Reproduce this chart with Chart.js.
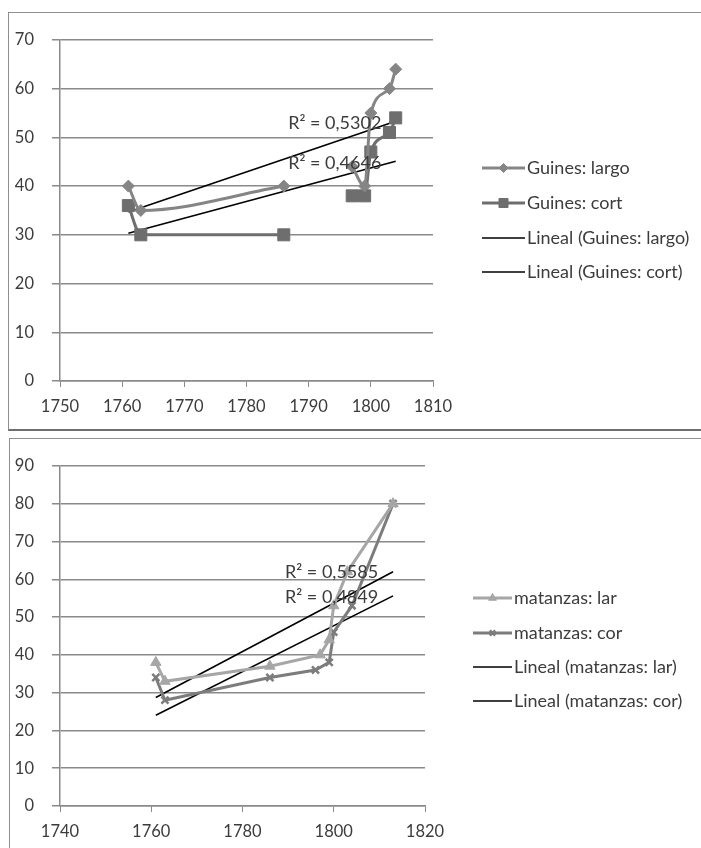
<!DOCTYPE html>
<html>
<head>
<meta charset="utf-8">
<script src="https://cdn.jsdelivr.net/npm/chart.js@4/dist/chart.umd.min.js"></script>
<style>
  html, body { margin: 0; padding: 0; background: #ffffff; }
  body { width: 701px; height: 848px; position: relative; overflow: hidden; }
  .box { position: absolute; border: 1.5px solid #8f8f8f; box-sizing: border-box; }
  #box1 { left: 8px; top: 12px; width: 700px; height: 419px; border-bottom: 2px solid #6f6f6f; }
  #box2 { left: 9px; top: 438px; width: 700px; height: 420px; }
  canvas { position: absolute; left: 0; }
  #c1 { top: 12px; }
  #c2 { top: 438px; }
</style>
</head>
<body>
<div class="box" id="box1"></div>
<div class="box" id="box2"></div>
<canvas id="c1" width="700" height="418"></canvas>
<canvas id="c2" width="700" height="410"></canvas>
<script>
// ---- Güines: sample years and values (null = no record, line breaks there) ----
const guinesLargoYears = [1761, 1763, 1786, null, 1797, 1799, 1800, 1803, 1804];
const guinesLargo      = [40, 35, 40, null, 44, 40, 55, 60, 64];
const guinesCortYears  = [1761, 1763, 1786, null, 1797, 1799, 1800, 1803, 1804];
const guinesCort       = [36, 30, 30, null, 38, 38, 47, 51, 54];
// linear trend endpoints [year, value]
const trendGuinesLargo = [[1761, 34.7], [1804, 53.3]];
const trendGuinesCort  = [[1761, 30.3], [1804, 45.1]];
const r2Guines = ['R² = 0,5302', 'R² = 0,4646'];
const guinesLabels = ['Guines: largo', 'Guines: cort', 'Lineal (Guines: largo)', 'Lineal (Guines: cort)'];
const guinesXTicks = [1750, 1760, 1770, 1780, 1790, 1800, 1810];
const guinesYTicks = [0, 10, 20, 30, 40, 50, 60, 70];

// ---- Matanzas: sample years and values ----
const matLarYears = [1761, 1763, 1786, 1797, 1799, 1800, 1803, 1813];
const matLar      = [38, 33, 37, 40, 44, 53, 62, 80];
const matCorYears = [1761, 1763, 1786, 1796, 1799, 1800, 1804, 1813];
const matCor      = [34, 28, 34, 36, 38, 46, 53, 80];
const trendMatLar = [[1761, 28.7], [1813, 62.0]];
const trendMatCor = [[1761, 24.0], [1813, 55.6]];
const r2Mat = ['R² = 0,5585', 'R² = 0,4849'];
const matLabels = ['matanzas: lar', 'matanzas: cor', 'Lineal (matanzas: lar)', 'Lineal (matanzas: cor)'];
const matXTicks = [1740, 1760, 1780, 1800, 1820];
const matYTicks = [0, 10, 20, 30, 40, 50, 60, 70, 80, 90];

const FONT = 'Lato, "Open Sans", sans-serif';
const TEXT = '#3c3c3c';
const GRID = '#8a8a8a';
const TICK_SIZE = 16.5;
const LEGEND_SIZE = 18;

function pts(xs, ys) { return xs.map((x, i) => ({ x: x, y: ys[i] })); }
function trendPts(t) { return t.map(p => ({ x: p[0], y: p[1] })); }

function seriesDs(label, data, color, style, radius, smooth) {
  return {
    label: label, data: data, showLine: true, spanGaps: false,
    borderColor: color, backgroundColor: color, borderWidth: 3,
    pointStyle: style, pointRadius: radius, pointBorderColor: color,
    pointBackgroundColor: color, pointBorderWidth: style === 'crossRot' ? 2.5 : 1,
    tension: smooth ? 0.4 : 0,
    cubicInterpolationMode: smooth ? 'monotone' : 'default'
  };
}
function trendDs(label, data) {
  return {
    label: label, data: data, showLine: true,
    borderColor: '#000000', backgroundColor: '#000000', borderWidth: 1.6,
    pointRadius: 0, tension: 0
  };
}

// legend drawn at the right of the plot, one row per dataset
const sideLegend = {
  id: 'sideLegend',
  afterDraw(chart, args, opts) {
    const ctx = chart.ctx;
    ctx.save();
    ctx.textBaseline = 'middle';
    chart.data.datasets.forEach((ds, i) => {
      const y = opts.rows[i];
      const x0 = opts.x0, x1 = opts.x1;
      ctx.strokeStyle = ds.borderColor;
      ctx.fillStyle = ds.borderColor;
      ctx.lineWidth = ds.pointRadius ? 3 : 1.6;
      ctx.beginPath(); ctx.moveTo(x0, y); ctx.lineTo(x1, y); ctx.stroke();
      if (ds.pointRadius) {
        ctx.lineWidth = ds.pointBorderWidth;
        Chart.helpers.drawPoint(ctx, {
          pointStyle: ds.pointStyle, radius: ds.pointRadius * 0.75,
          borderWidth: ds.pointBorderWidth
        }, (x0 + x1) / 2, y);
      }
      ctx.font = LEGEND_SIZE + 'px ' + FONT;
      ctx.fillStyle = TEXT;
      ctx.textAlign = 'left';
      ctx.fillText(ds.label, x1 + 2, y);
    });
    ctx.restore();
  }
};

// R² annotations anchored in data coordinates
const r2Labels = {
  id: 'r2Labels',
  afterDatasetsDraw(chart, args, opts) {
    const ctx = chart.ctx, xs = chart.scales.x, ys = chart.scales.y;
    ctx.save();
    ctx.font = LEGEND_SIZE + 'px ' + FONT;
    ctx.fillStyle = TEXT;
    ctx.textAlign = 'left';
    ctx.textBaseline = 'middle';
    opts.items.forEach(it => {
      ctx.fillText(it.text, xs.getPixelForValue(it.x), ys.getPixelForValue(it.y));
    });
    ctx.restore();
  }
};

function makeChart(id, datasets, xr, yr, xTicks, yTicks, padding, legendOpts, r2Items) {
  return new Chart(document.getElementById(id), {
    type: 'scatter',
    data: { datasets: datasets },
    options: {
      responsive: false, animation: false, devicePixelRatio: 1,
      layout: { padding: padding },
      plugins: {
        legend: { display: false }, tooltip: { enabled: false },
        sideLegend: legendOpts, r2Labels: { items: r2Items }
      },
      scales: {
        x: {
          type: 'linear', min: xr[0], max: xr[1],
          afterBuildTicks: s => { s.ticks = xTicks.map(v => ({ value: v })); },
          afterFit: s => { s.height = 40; },
          ticks: { color: TEXT, font: { size: TICK_SIZE, family: FONT }, padding: 10, callback: v => String(v), maxRotation: 0 },
          grid: { drawOnChartArea: false, drawTicks: true, tickLength: 6, color: GRID, lineWidth: 1 },
          border: { color: GRID, width: 1.5 }
        },
        y: {
          type: 'linear', min: yr[0], max: yr[1],
          afterBuildTicks: s => { s.ticks = yTicks.map(v => ({ value: v })); },
          afterFit: s => { s.width = 60; },
          ticks: { color: TEXT, font: { size: TICK_SIZE, family: FONT }, padding: 18, callback: v => String(v) },
          grid: { color: GRID, lineWidth: 1.5, tickLength: 8 },
          border: { color: GRID, width: 1.5 }
        }
      }
    },
    plugins: [sideLegend, r2Labels]
  });
}

makeChart('c1', [
    seriesDs(guinesLabels[0], pts(guinesLargoYears, guinesLargo), '#858585', 'rectRot', 6, true),
    seriesDs(guinesLabels[1], pts(guinesCortYears, guinesCort), '#6e6e6e', 'rect', 8.5, true),
    trendDs(guinesLabels[2], trendPts(trendGuinesLargo)),
    trendDs(guinesLabels[3], trendPts(trendGuinesCort))
  ],
  [1750, 1810], [0, 70], guinesXTicks, guinesYTicks,
  { left: 0, right: 267, top: 20, bottom: 9 },
  { x0: 482, x1: 525, rows: [156, 191, 226, 260] },
  [ { text: r2Guines[0], x: 1786.7, y: 52.9 }, { text: r2Guines[1], x: 1786.7, y: 44.7 } ]
);

makeChart('c2', [
    seriesDs(matLabels[0], pts(matLarYears, matLar), '#a6a6a6', 'triangle', 6, false),
    seriesDs(matLabels[1], pts(matCorYears, matCor), '#7c7c7c', 'crossRot', 5, false),
    trendDs(matLabels[2], trendPts(trendMatLar)),
    trendDs(matLabels[3], trendPts(trendMatCor))
  ],
  [1740, 1820], [0, 90], matXTicks, matYTicks,
  { left: 0, right: 275, top: 20, bottom: 2 },
  { x0: 473, x1: 512, rows: [160, 195, 229, 263] },
  [ { text: r2Mat[0], x: 1789.3, y: 61.8 }, { text: r2Mat[1], x: 1789.3, y: 55.3 } ]
);
</script>
</body>
</html>
